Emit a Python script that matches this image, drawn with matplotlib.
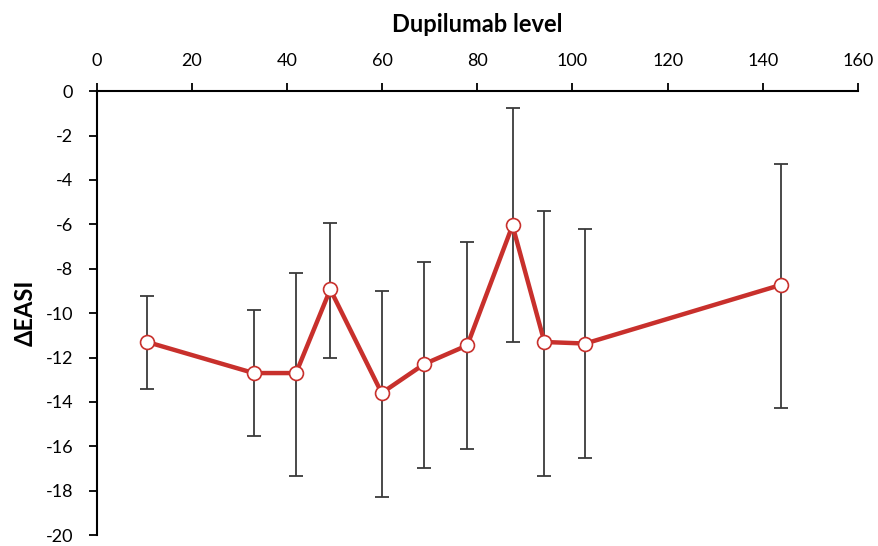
import numpy as np
import matplotlib.pyplot as plt

plt.rcParams['font.family'] = ['Lato', 'DejaVu Sans']
plt.rcParams['axes.unicode_minus'] = False

# dupilumab level (x) and mean change in EASI with error bar ends
level = [10.6, 33.0, 41.9, 49.1, 59.9, 68.8, 77.9, 87.4, 94.1, 102.7, 143.8]
delta_easi = [-11.3, -12.7, -12.7, -8.93, -13.6, -12.3, -11.45, -6.05, -11.3, -11.37, -8.73]
err_top = [-9.23, -9.86, -8.18, -5.95, -8.99, -7.71, -6.81, -0.78, -5.39, -6.23, -3.27]
err_bottom = [-13.40, -15.54, -17.32, -12.0, -18.30, -16.97, -16.11, -11.31, -17.32, -16.54, -14.28]

x = np.array(level)
y = np.array(delta_easi)
yerr = np.vstack([y - np.array(err_bottom), np.array(err_top) - y])

fig = plt.figure(figsize=(8.79, 5.46), dpi=100)
ax = fig.add_axes([0.110, 0.020, 0.866, 0.813])

ax.errorbar(x, y, yerr=yerr, fmt='none', ecolor='#3a3a3a', elinewidth=1.3,
            capsize=5, capthick=1.3, zorder=1)
ax.plot(x, y, color='#c8302c', linewidth=3.2, marker='o', markersize=10,
        markerfacecolor='white', markeredgecolor='#c8302c', markeredgewidth=1.2,
        zorder=3)

ax.set_xlim(0, 160)
ax.set_ylim(-20, 0)
ax.set_xticks(np.arange(0, 161, 20))
ax.set_yticks(np.arange(-20, 1, 2))

ax.xaxis.tick_top()
ax.xaxis.set_label_position('top')
ax.spines['bottom'].set_visible(False)
ax.spines['right'].set_visible(False)
ax.spines['top'].set_linewidth(1.5)
ax.spines['left'].set_linewidth(1.5)
ax.tick_params(axis='both', direction='out', length=6, width=1.3,
               labelsize=13, colors='black')
ax.tick_params(axis='x', pad=10)
ax.tick_params(axis='y', pad=11)

ax.set_xlabel('Dupilumab level', fontsize=17, fontweight='bold', labelpad=15)
ax.set_ylabel('ΔEASI', fontsize=17, fontweight='bold', labelpad=6)

fig.savefig('out.png', dpi=100)
